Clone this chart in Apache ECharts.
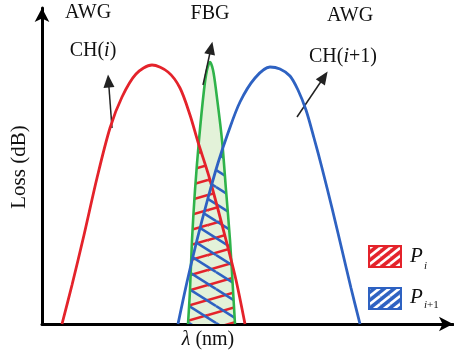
<!DOCTYPE html>
<html>
<head>
<meta charset="utf-8">
<script src="https://cdn.jsdelivr.net/npm/echarts@6/dist/echarts.min.js"></script>
<style>html,body{margin:0;padding:0;background:#fff}#c{width:454px;height:356px}</style>
</head>
<body>
<div id="c"></div>
<script>
// Curve samples (x: wavelength, arbitrary units; y: loss, arbitrary units)
const redCurve = [[2.0,0],[3.0,3.9],[4.2,8.9],[5.5,14.6],[6.8,19.6],[8.0,22.7],[9.4,25.0],[11.0,25.9],[12.6,25.2],[13.8,23.6],[14.8,20.9],[15.6,18.2],[16.8,14.4],[18.4,8.4],[19.4,4.4],[20.3,0]];
const blueCurve = [[13.6,0],[14.5,4.2],[15.5,8.4],[16.6,12.6],[17.6,16.1],[18.6,19.1],[19.8,22.2],[21.3,24.6],[22.8,25.7],[23.8,25.5],[24.8,24.8],[25.6,23.4],[26.4,21.4],[27.2,18.6],[28.0,15.6],[29.0,11.6],[30.0,7.4],[30.9,3.6],[31.8,0]];
const greenCurve = [[14.6,0],[14.8,3.4],[15.0,8.4],[15.3,13.4],[15.7,18.4],[16.2,23.4],[16.5,25.4],[16.8,26.2],[17.1,25.4],[17.4,23.4],[18.0,18.4],[18.4,13.4],[18.8,8.4],[19.1,3.4],[19.3,0]];
// Overlap regions
const piRegion = [[14.6,0],[14.8,3.4],[15.0,8.4],[15.3,13.4],[15.6,18.1],[16.8,14.4],[18.4,8.4],[18.9,6.2],[19.1,3.4],[19.3,0]];
const pi1Region = [[14.6,0],[14.8,3.4],[14.9,5.9],[15.5,8.4],[16.6,12.6],[17.6,16.1],[18.1,17.6],[18.4,13.4],[18.8,8.4],[19.1,3.4],[19.3,0]];
// Annotation arrows [tail, head]
const arrowCHi = [[7.0,19.6],[6.65,24.3]];
const arrowFBG = [[16.1,23.9],[16.9,27.6]];
const arrowCHi1 = [[25.5,20.7],[28.2,24.7]];
const xMax = 41.1, yMax = 31.6;

const RED = '#e4232b', BLUE = '#2e62c2', GREEN = '#2fb34a', GFILL = '#e3f2d9';

function hatch(color, W, H, dir, lw, bg) {
  const c = document.createElement('canvas'); c.width = W; c.height = H;
  const g = c.getContext('2d');
  if (bg) { g.fillStyle = bg; g.fillRect(0,0,W,H); }
  g.strokeStyle = color; g.lineWidth = lw;
  for (const dx of [-W,0,W]) for (const dy of [-H,0,H]) {
    g.beginPath();
    if (dir === 'up') { g.moveTo(dx, dy+H); g.lineTo(dx+W, dy); }
    else { g.moveTo(dx, dy); g.lineTo(dx+W, dy+H); }
    g.stroke();
  }
  return c;
}
const redHatch = {image: hatch(RED, 52, 15, 'up', 2.6), repeat: 'repeat'};
const blueHatch = {image: hatch(BLUE, 27, 17, 'down', 2.6), repeat: 'repeat'};
const redLeg = {image: hatch('#fff', 10, 8, 'up', 2.6, RED), repeat: 'repeat'};
const blueLeg = {image: hatch('#fff', 10, 8, 'up', 2.6, BLUE), repeat: 'repeat'};

function regionSeries(pts, fill, z) {
  return {
    type: 'custom', coordinateSystem: 'cartesian2d', z: z, silent: true, clip: false,
    data: [[pts[0][0], pts[0][1]]],
    renderItem: function (params, api) {
      return {type: 'polygon', shape: {points: pts.map(p => api.coord(p))}, style: {fill: fill, stroke: null}};
    }
  };
}
function arrowLine(a) {
  return [{coord: a[0], symbol: 'none'}, {coord: a[1], symbol: 'triangle'}];
}

const chart = echarts.init(document.getElementById('c'), null, {renderer: 'canvas'});
const serif = 'Liberation Serif';
chart.setOption({
  animation: false,
  grid: {left: 42, right: 1, top: 8, bottom: 32},
  xAxis: {type: 'value', min: 0, max: xMax,
    axisLine: {show: true, onZero: false, symbol: ['none','arrow'], symbolSize: [11,14], lineStyle: {color: '#000', width: 3}},
    axisTick: {show: false}, axisLabel: {show: false}, splitLine: {show: false}},
  yAxis: {type: 'value', min: 0, max: yMax,
    axisLine: {show: true, onZero: false, symbol: ['none','arrow'], symbolSize: [11,14], lineStyle: {color: '#000', width: 3}},
    axisTick: {show: false}, axisLabel: {show: false}, splitLine: {show: false}},
  series: [
    {type: 'line', data: greenCurve, smooth: 0.3, showSymbol: false, z: 1, lineStyle: {width: 0}, areaStyle: {color: GFILL, opacity: 1}},
    regionSeries(piRegion, redHatch, 2),
    regionSeries(pi1Region, blueHatch, 3),
    {type: 'line', data: greenCurve, smooth: 0.3, showSymbol: false, z: 4, lineStyle: {color: GREEN, width: 2.6}},
    {type: 'line', data: redCurve, smooth: 0.3, showSymbol: false, z: 5, lineStyle: {color: RED, width: 2.8}},
    {type: 'line', data: blueCurve, smooth: 0.3, showSymbol: false, z: 5, lineStyle: {color: BLUE, width: 2.8},
      markLine: {silent: true, symbolSize: [11,13], label: {show: false},
        lineStyle: {color: '#222', width: 1.5, type: 'solid'},
        emphasis: {disabled: true},
        data: [arrowLine(arrowCHi), arrowLine(arrowFBG), arrowLine(arrowCHi1)]}}
  ],
  graphic: [
    {type: 'text', x: 88, y: 13, style: {text: 'AWG', font: '20px "Liberation Serif"', fill: '#111', align: 'center', verticalAlign: 'middle'}},
    {type: 'text', x: 93, y: 51, style: {text: '{n|CH(}{i|i}{n|)}', align: 'center', verticalAlign: 'middle',
      rich: {n: {fontFamily: serif, fontSize: 20, fill: '#111'}, i: {fontFamily: serif, fontSize: 20, fontStyle: 'italic', fill: '#111'}}}},
    {type: 'text', x: 210, y: 14, style: {text: 'FBG', font: '20px "Liberation Serif"', fill: '#111', align: 'center', verticalAlign: 'middle'}},
    {type: 'text', x: 350, y: 16, style: {text: 'AWG', font: '20px "Liberation Serif"', fill: '#111', align: 'center', verticalAlign: 'middle'}},
    {type: 'text', x: 343, y: 57, style: {text: '{n|CH(}{i|i}{n|+1)}', align: 'center', verticalAlign: 'middle',
      rich: {n: {fontFamily: serif, fontSize: 20, fill: '#111'}, i: {fontFamily: serif, fontSize: 20, fontStyle: 'italic', fill: '#111'}}}},
    {type: 'text', x: 19, y: 167, rotation: Math.PI/2, style: {text: 'Loss (dB)', font: '21px "Liberation Serif"', fill: '#111', align: 'center', verticalAlign: 'middle'}},
    {type: 'text', x: 208, y: 340, style: {text: '{i|λ}{n| (nm)}', align: 'center', verticalAlign: 'middle',
      rich: {n: {fontFamily: serif, fontSize: 20, fill: '#111'}, i: {fontFamily: serif, fontSize: 20, fontStyle: 'italic', fill: '#111'}}}},
    {type: 'rect', shape: {x: 369, y: 246, width: 32, height: 21}, style: {fill: redLeg, stroke: RED, lineWidth: 2}},
    {type: 'rect', shape: {x: 369, y: 288, width: 32, height: 21}, style: {fill: blueLeg, stroke: BLUE, lineWidth: 2}},
    {type: 'text', x: 410, y: 256, style: {text: 'P', font: 'italic 21px "Liberation Serif"', fill: '#111', align: 'left', verticalAlign: 'middle'}},
    {type: 'text', x: 424, y: 266, style: {text: 'i', font: 'italic 11px "Liberation Serif"', fill: '#111', align: 'left', verticalAlign: 'middle'}},
    {type: 'text', x: 410, y: 297, style: {text: 'P', font: 'italic 21px "Liberation Serif"', fill: '#111', align: 'left', verticalAlign: 'middle'}},
    {type: 'text', x: 424, y: 305, style: {text: '{i|i}{n|+1}', align: 'left', verticalAlign: 'middle',
      rich: {n: {fontFamily: serif, fontSize: 11, fill: '#111'}, i: {fontFamily: serif, fontSize: 11, fontStyle: 'italic', fill: '#111'}}}}
  ]
});
</script>
</body>
</html>
